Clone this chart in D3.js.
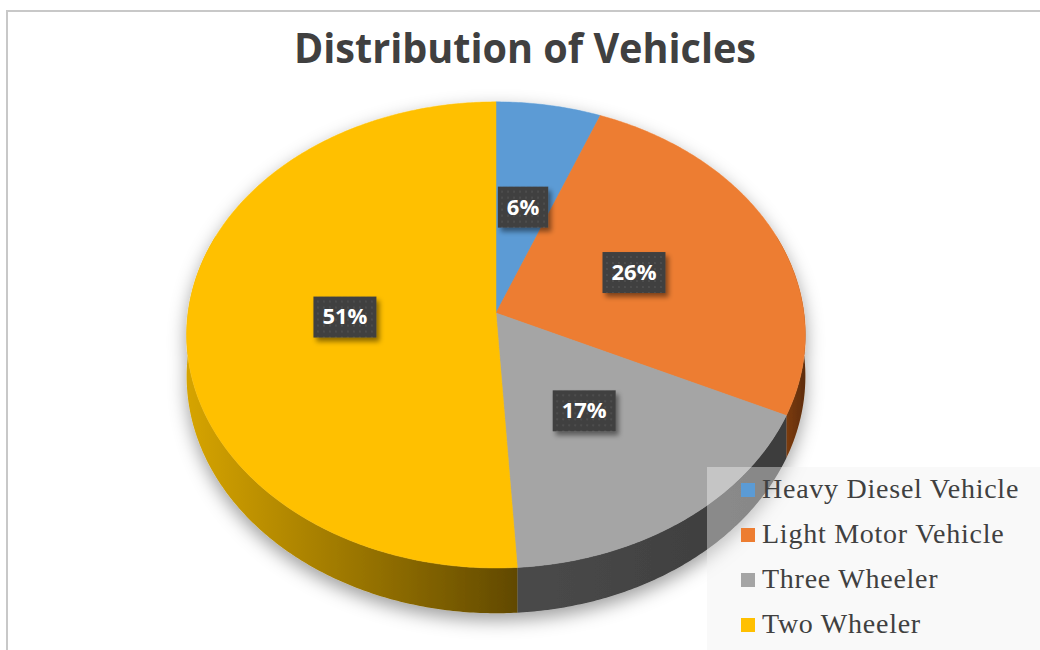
<!DOCTYPE html>
<head>
<meta charset="utf-8">
<script src="https://d3js.org/d3.v7.min.js"></script>
<style>
    body { margin: 0; background: #fff; }
    .title {
        font-family: "Open Sans", sans-serif;
        font-weight: bold;
        font-size: 42px;
        fill: #404040;
    }
    .lbl text {
        font-family: "Open Sans", sans-serif;
        font-weight: bold;
        font-size: 22px;
        fill: #fff;
    }
    .legend text {
        font-family: "Liberation Serif", "Times New Roman", serif;
        font-size: 28px;
        letter-spacing: 0.75px;
        fill: #404040;
    }
</style>
</head>
<body>
<svg width="1040" height="650"></svg>
<script>
// chart data
var categories = ["Heavy Diesel Vehicle", "Light Motor Vehicle", "Three Wheeler", "Two Wheeler"];
var shares = [6, 26, 17, 51];
var topColors = ["#5b9bd5", "#ed7d31", "#a5a5a5", "#ffc000"];
var sideLight = ["#4a7fb0", "#8c4412", "#4a4a4a", "#d6a400"];
var sideDark = ["#2f5577", "#5e2c08", "#3c3c3c", "#614900"];

var svg = d3.select("svg");

// chart frame
svg.append("rect")
    .attr("x", 7).attr("y", 11)
    .attr("width", 1100).attr("height", 700)
    .attr("fill", "none")
    .attr("stroke", "#c8c8c8")
    .attr("stroke-width", 2);

var defs = svg.append("defs");

var shadow = defs.append("filter").attr("id", "pieShadow")
    .attr("x", "-20%").attr("y", "-20%").attr("width", "140%").attr("height", "140%");
shadow.append("feDropShadow")
    .attr("dx", 0).attr("dy", 7)
    .attr("stdDeviation", 9)
    .attr("flood-color", "#000")
    .attr("flood-opacity", 0.38);

var boxShadow = defs.append("filter").attr("id", "boxShadow")
    .attr("x", "-30%").attr("y", "-30%").attr("width", "160%").attr("height", "160%");
boxShadow.append("feDropShadow")
    .attr("dx", 3).attr("dy", 4)
    .attr("stdDeviation", 2.5)
    .attr("flood-color", "#000")
    .attr("flood-opacity", 0.45);

var dots = defs.append("pattern").attr("id", "dots")
    .attr("width", 6).attr("height", 6)
    .attr("patternUnits", "userSpaceOnUse");
dots.append("rect").attr("width", 6).attr("height", 6).attr("fill", "#404040");
dots.append("circle").attr("cx", 3).attr("cy", 3).attr("r", 0.9).attr("fill", "#535353");

// title
var title = svg.append("text")
    .attr("class", "title")
    .attr("x", 525).attr("y", 63)
    .attr("text-anchor", "middle")
    .text("Distribution of Vehicles");
if (title.node().getComputedTextLength() > 462) {
    title.attr("textLength", 462).attr("lengthAdjust", "spacingAndGlyphs");
}

// 3d pie projection: angle clockwise from top, k = radius fraction, d = depth (0 top, 1 bottom)
var cx = 496, cy = 313, rx = 308, ry = 231, persp = 0.094, depth = 41;
function proj(a, k, d) {
    var u = k * Math.sin(a), v = -k * Math.cos(a);
    var w = 1 - persp * v;
    return [cx + rx * u / w, cy + ry * v / w + d * depth / w];
}
function arcPoints(a0, a1, k, d) {
    var n = Math.max(2, Math.ceil((a1 - a0) / 0.01));
    return d3.range(n + 1).map(function(i) { return proj(a0 + (a1 - a0) * i / n, k, d); });
}
var line = d3.line();

var pie = d3.pie().sort(null).value(function(d) { return d; });
var arcs = pie(shares);

var pieG = svg.append("g").attr("filter", "url(#pieShadow)");

// side walls (only the front half can show)
var frontA0 = Math.PI / 2 - 0.35, frontA1 = 3 * Math.PI / 2 + 0.35;
arcs.forEach(function(s, i) {
    var a0 = Math.max(s.startAngle, frontA0), a1 = Math.min(s.endAngle, frontA1);
    if (a1 <= a0) return;
    var topEdge = arcPoints(a0, a1, 1, 0);
    var botEdge = arcPoints(a0, a1, 1, 1).reverse();
    var xs = topEdge.map(function(p) { return p[0]; });
    var gid = "side" + i;
    var grad = defs.append("linearGradient").attr("id", gid)
        .attr("gradientUnits", "userSpaceOnUse")
        .attr("x1", d3.min(xs)).attr("x2", d3.max(xs))
        .attr("y1", 0).attr("y2", 0);
    grad.append("stop").attr("offset", 0).attr("stop-color", sideLight[i]);
    grad.append("stop").attr("offset", 1).attr("stop-color", sideDark[i]);
    pieG.append("path")
        .attr("d", line(topEdge.concat(botEdge)) + "Z")
        .attr("fill", "url(#" + gid + ")");
});

// top faces
pieG.selectAll(".slice")
    .data(arcs)
    .enter().append("path")
    .attr("class", "slice")
    .attr("d", function(s) {
        return line([proj(0, 0, 0)].concat(arcPoints(s.startAngle, s.endAngle, 1, 0))) + "Z";
    })
    .attr("fill", function(s, i) { return topColors[i]; })
    .attr("stroke", function(s, i) { return topColors[i]; })
    .attr("stroke-width", 0.5);

// data labels
var lbl = svg.selectAll(".lbl")
    .data(arcs)
    .enter().append("g")
    .attr("class", "lbl")
    .attr("transform", function(s) {
        var p = proj((s.startAngle + s.endAngle) / 2, 0.49, 0);
        return "translate(" + p[0] + "," + p[1] + ")";
    });
lbl.append("rect").attr("filter", "url(#boxShadow)");
lbl.append("text")
    .attr("text-anchor", "middle")
    .attr("dy", "0.36em")
    .text(function(d) {
        var total = d3.sum(shares);
        return Math.round(d.data / total * 100) + "%";
    });
lbl.each(function() {
    var g = d3.select(this);
    var w = g.select("text").node().getComputedTextLength() + 18;
    g.select("rect")
        .attr("x", -w / 2).attr("y", -20)
        .attr("width", w).attr("height", 41)
        .attr("fill", "url(#dots)");
});

// legend
var legend = svg.append("g").attr("class", "legend");
legend.append("rect")
    .attr("x", 707).attr("y", 467)
    .attr("width", 340).attr("height", 190)
    .attr("fill", "#f0f0f0")
    .attr("fill-opacity", 0.42);
var rowY = d3.scalePoint().domain(categories).range([498, 633]);
var item = legend.selectAll(".item")
    .data(categories)
    .enter().append("g")
    .attr("class", "item")
    .attr("transform", function(d) { return "translate(741," + rowY(d) + ")"; });
item.append("rect")
    .attr("x", 0).attr("y", -15)
    .attr("width", 14).attr("height", 14)
    .attr("fill", function(d, i) { return topColors[i]; });
item.append("text")
    .attr("x", 21).attr("y", 0)
    .text(function(d) { return d; });
</script>
</body>
